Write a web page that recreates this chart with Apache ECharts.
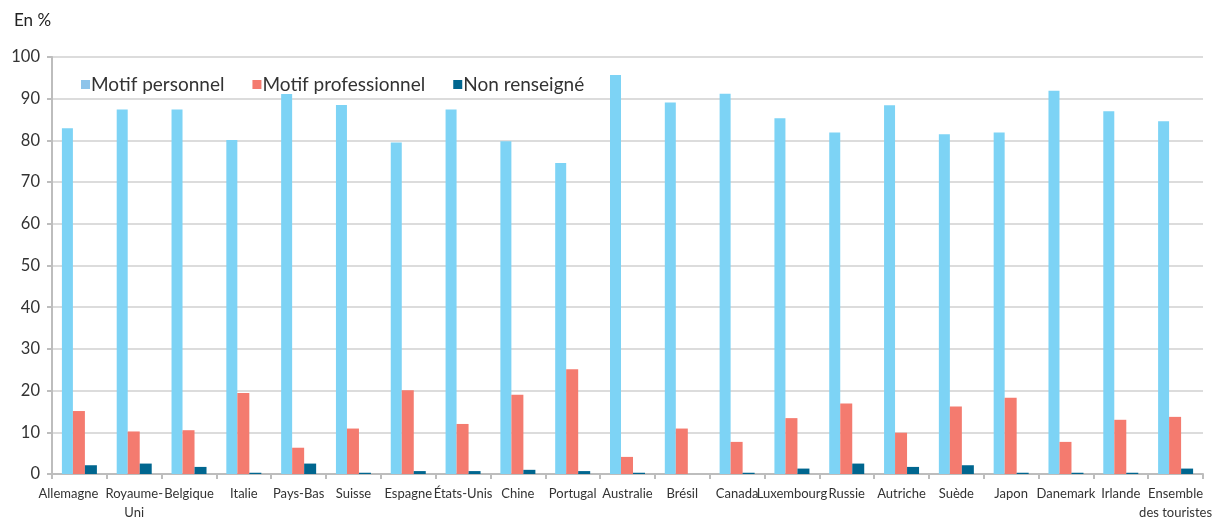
<!DOCTYPE html>
<html><head><meta charset="utf-8">
<script src="https://cdn.jsdelivr.net/npm/echarts@6/dist/echarts.min.js"></script>
<style>html,body{margin:0;padding:0;background:#fff}#c{width:1215px;height:522px}</style>
</head><body><div id="c"></div>
<script>
const categories = ["Allemagne","Royaume-\nUni","Belgique","Italie","Pays-Bas","Suisse","Espagne","États-Unis","Chine","Portugal","Australie","Brésil","Canada","Luxembourg","Russie","Autriche","Suède","Japon","Danemark","Irlande","Ensemble\ndes touristes"];
const personnel = [82.9,87.4,87.4,80.1,91.1,88.5,79.5,87.4,79.8,74.6,95.7,89.1,91.2,85.3,81.9,88.4,81.5,81.9,91.9,87.0,84.6];
const professionnel = [15.1,10.2,10.5,19.4,6.3,10.9,20.1,12.0,19.0,25.1,4.1,10.9,7.7,13.4,16.9,9.9,16.2,18.3,7.7,13.0,13.7];
const nonRenseigne = [2.1,2.5,1.7,0.3,2.5,0.3,0.7,0.7,1.0,0.7,0.3,0.0,0.3,1.3,2.5,1.7,2.1,0.3,0.3,0.3,1.3];
const yTicks = [0,10,20,30,40,50,60,70,80,90,100];
const seriesNames = ["Motif personnel","Motif professionnel","Non renseigné"];
const colors = ["#7dd3f5","#f47b6f","#00668f"];

const font = "Lato,'Liberation Sans',sans-serif";
const xData = categories.map((c,i)=> i===0 ? {value:c,textStyle:{padding:[0,22,0,0]}} : c);
const chart = echarts.init(document.getElementById('c'), null, {renderer:'canvas'});
chart.setOption({
  animation:false,
  textStyle:{fontFamily:font},
  graphic:[{type:'text',left:14,top:12,style:{text:'En %',font:"17px "+font,fill:'#222'}}],
  legend:{
    left:76, top:70, itemWidth:9, itemHeight:9, itemGap:28, icon:'rect',
    textStyle:{fontFamily:font,fontSize:19,color:'#333',padding:[0,0,0,-4]},
    data:[{name:seriesNames[0],itemStyle:{color:'#8ec4ea'}},seriesNames[1],seriesNames[2]]
  },
  grid:{left:52,right:9,top:57,bottom:43,containLabel:false},
  xAxis:{
    type:'category', data:xData,
    axisLine:{lineStyle:{color:'#bdbdbd',width:2}},
    axisTick:{show:true,length:5,lineStyle:{color:'#bdbdbd',width:2}},
    axisLabel:{interval:0,fontFamily:font,fontSize:13,color:'#333',margin:10,lineHeight:19}
  },
  yAxis:{
    type:'value', min:yTicks[0], max:yTicks[yTicks.length-1], interval:10,
    axisLine:{show:true,lineStyle:{color:'#bdbdbd',width:2}},
    axisTick:{show:true,length:5,lineStyle:{color:'#bdbdbd',width:2}},
    axisLabel:{fontFamily:font,fontSize:16.5,color:'#333',margin:12},
    splitLine:{lineStyle:{color:'#dcdcdc',width:2}}
  },
  series:[
    {name:seriesNames[0],type:'bar',data:personnel,itemStyle:{color:colors[0]},barWidth:11,barGap:'0%'},
    {name:seriesNames[1],type:'bar',data:professionnel,itemStyle:{color:colors[1]},barWidth:12,barGap:'0%'},
    {name:seriesNames[2],type:'bar',data:nonRenseigne,itemStyle:{color:colors[2]},barWidth:12,barGap:'0%'}
  ]
});
</script></body></html>
